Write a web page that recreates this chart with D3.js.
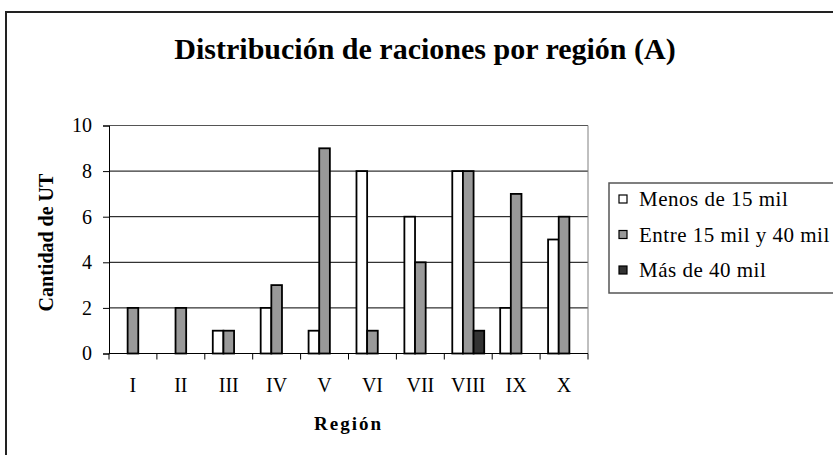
<!DOCTYPE html>
<html>
<head>
<meta charset="utf-8">
<script src="https://cdn.jsdelivr.net/npm/d3@7"></script>
<style>
  body { margin: 0; background: #fff; }
  svg text { font-family: "Liberation Serif", "Times New Roman", serif; }
</style>
</head>
<body>
<div id="chart"></div>
<script>
const regions = ["I", "II", "III", "IV", "V", "VI", "VII", "VIII", "IX", "X"];
const seriesNames = ["Menos de 15 mil", "Entre 15 mil y 40 mil", "Más de 40 mil"];
const menos15 = [0, 0, 1, 2, 1, 8, 6, 8, 2, 5];
const entre15y40 = [2, 2, 1, 3, 9, 1, 4, 8, 7, 6];
const mas40 = [0, 0, 0, 0, 0, 0, 0, 1, 0, 0];
const yTicks = [0, 2, 4, 6, 8, 10];
const colors = ["#ffffff", "#999999", "#333333"];

const series = [menos15, entre15y40, mas40];
const size = { x: 833, y: 455 };
const plot = { left: 109, right: 588, top: 125.5, bottom: 353.5 };

const svg = d3.select("#chart")
  .append("svg")
  .attr("width", size.x)
  .attr("height", size.y);

// outer chart border
svg.append("rect")
  .attr("x", 6).attr("y", 12)
  .attr("width", 900).attr("height", 500)
  .attr("fill", "none")
  .attr("stroke", "#222")
  .attr("stroke-width", 2);

svg.append("text")
  .text("Distribución de raciones por región (A)")
  .attr("x", 425)
  .attr("y", 59)
  .attr("text-anchor", "middle")
  .attr("font-size", "30px")
  .attr("font-weight", "bold");

const xScale = d3.scaleBand()
  .domain(regions)
  .range([plot.left, plot.right]);

const inner = d3.scaleBand()
  .domain(d3.range(series.length))
  .range([0, xScale.bandwidth()])
  .paddingOuter(0.75)
  .paddingInner(0);

const yScale = d3.scaleLinear()
  .domain([0, 10])
  .range([plot.bottom, plot.top]);

// gridlines
svg.append("g")
  .selectAll("line")
  .data(yTicks.slice(1))
  .enter()
  .append("line")
  .attr("x1", plot.left)
  .attr("x2", plot.right)
  .attr("y1", d => yScale(d))
  .attr("y2", d => yScale(d))
  .attr("stroke", d => d === 10 ? "#555" : "#000")
  .attr("stroke-width", 1);

// plot area right border
svg.append("line")
  .attr("x1", plot.right).attr("x2", plot.right)
  .attr("y1", plot.top).attr("y2", plot.bottom)
  .attr("stroke", "#808080");

// bars
const groups = svg.append("g")
  .selectAll(".barGroup")
  .data(regions)
  .enter()
  .append("g")
  .attr("class", "barGroup")
  .attr("transform", d => `translate(${xScale(d)},0)`);

groups.selectAll("rect")
  .data((d, i) => series.map((s, k) => ({ k: k, v: s[i] })).filter(e => e.v > 0))
  .enter()
  .append("rect")
  .attr("x", d => inner(d.k))
  .attr("y", d => yScale(d.v))
  .attr("width", inner.bandwidth())
  .attr("height", d => yScale(0) - yScale(d.v))
  .attr("fill", d => colors[d.k])
  .attr("stroke", "#000")
  .attr("stroke-width", 1.8);

// y axis
const yAxis = svg.append("g")
  .attr("transform", `translate(${plot.left},0)`)
  .call(d3.axisLeft(yScale).tickValues(yTicks).tickSize(6).tickPadding(11));
yAxis.selectAll("text").attr("font-size", "20px").attr("fill", "#000");
yAxis.selectAll("line, path").attr("stroke", "#000");

// x axis: labels centred, ticks between categories
const xAxis = svg.append("g")
  .attr("transform", `translate(0,${plot.bottom})`)
  .call(d3.axisBottom(xScale).tickSize(0).tickPadding(24));
xAxis.select("path").remove();
xAxis.selectAll("text").attr("font-size", "20px").attr("fill", "#000");

svg.append("line")
  .attr("x1", plot.left).attr("x2", plot.right)
  .attr("y1", plot.bottom).attr("y2", plot.bottom)
  .attr("stroke", "#000");

svg.append("g")
  .selectAll("line")
  .data(regions.map(r => xScale(r)).concat([plot.right]))
  .enter()
  .append("line")
  .attr("x1", d => d).attr("x2", d => d)
  .attr("y1", plot.bottom).attr("y2", plot.bottom + 6)
  .attr("stroke", "#000");

// axis titles
svg.append("text")
  .text("Cantidad de UT")
  .attr("transform", `translate(53,${(plot.top + plot.bottom) / 2 + 3}) rotate(-90)`)
  .attr("text-anchor", "middle")
  .attr("font-size", "20px")
  .attr("font-weight", "bold");

svg.append("text")
  .text("Región")
  .attr("x", (plot.left + plot.right) / 2)
  .attr("y", 430)
  .attr("text-anchor", "middle")
  .attr("font-size", "19px")
  .attr("font-weight", "bold")
  .attr("letter-spacing", "2px");

// legend
const legend = svg.append("g").attr("transform", "translate(609,183)");
legend.append("rect")
  .attr("x", 0).attr("y", 0)
  .attr("width", 300).attr("height", 110)
  .attr("fill", "#fff")
  .attr("stroke", "#555")
  .attr("stroke-width", 1.5);

const items = legend.selectAll(".item")
  .data(seriesNames)
  .enter()
  .append("g")
  .attr("transform", (d, i) => `translate(10,${16 + i * 35.5})`);

items.append("rect")
  .attr("x", 0).attr("y", -4)
  .attr("width", 8).attr("height", 8)
  .attr("fill", (d, i) => colors[i])
  .attr("stroke", "#000")
  .attr("stroke-width", 1.2);

items.append("text")
  .text(d => d)
  .attr("x", 20)
  .attr("y", 0)
  .attr("dominant-baseline", "central")
  .attr("font-size", "21px")
  .attr("letter-spacing", "0.5px");
</script>
</body>
</html>
